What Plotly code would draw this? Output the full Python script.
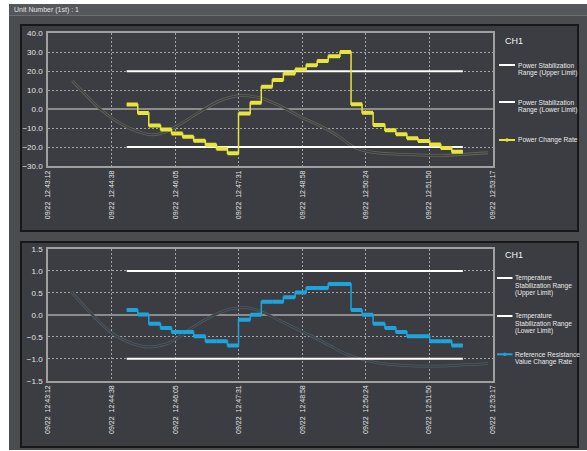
import plotly.graph_objects as go

W, H = 587, 451
DAY = "2023-09-22 "

# x axis ticks (start / end of the window)
tick_times = ["12:43:12", "12:44:38", "12:46:05", "12:47:31",
              "12:48:58", "12:50:24", "12:51:50", "12:53:17"]

# step change times, last entry closes the final step
step_times = ["12:44:59", "12:45:14", "12:45:29", "12:45:45", "12:46:00", "12:46:15",
              "12:46:30", "12:46:46", "12:47:01", "12:47:16", "12:47:31", "12:47:47",
              "12:48:02", "12:48:17", "12:48:32", "12:48:48", "12:49:03", "12:49:18",
              "12:49:33", "12:49:49", "12:50:04", "12:50:19", "12:50:34", "12:50:50",
              "12:51:05", "12:51:20", "12:51:35", "12:51:51", "12:52:06", "12:52:21",
              "12:52:36"]

power_rate = [2.5, -2.0, -8.6, -10.7, -12.8, -14.6, -16.7, -18.8, -20.9, -23.3,
              -2.3, 3.3, 11.8, 15.3, 18.8, 20.9, 23.2, 25.4, 27.9, 30.2,
              2.6, -1.9, -8.4, -11.1, -13.3, -15.4, -16.8, -18.6, -20.5, -22.5]

resist_rate = [0.11, 0.01, -0.2, -0.3, -0.39, -0.39, -0.49, -0.6, -0.6, -0.7,
               -0.11, 0.0, 0.3, 0.3, 0.4, 0.51, 0.61, 0.61, 0.7, 0.7,
               0.11, 0.0, -0.2, -0.3, -0.39, -0.49, -0.49, -0.6, -0.6, -0.7]

power_upper, power_lower = 20.0, -20.0
temp_upper, temp_lower = 1.0, -1.0

# faint background curves
bg_times_top = ["12:43:45", "12:44:23", "12:44:40", "12:45:04", "12:45:31", "12:45:48",
                "12:46:07", "12:46:39", "12:47:06", "12:47:34", "12:48:00", "12:48:27",
                "12:48:55", "12:49:26", "12:49:49", "12:50:09", "12:50:34", "12:51:20",
                "12:52:05", "12:53:10"]
bg_top = [15, 0, -5, -10.3, -13.5, -12.6, -9, -1.3, 4.5, 7.1, 5.9, 1.8,
          -4, -9.6, -14.9, -20.2, -22.8, -24, -24.4, -23]

bg_times_bot = ["12:43:44", "12:44:09", "12:44:40", "12:45:08", "12:45:28", "12:45:53",
                "12:46:06", "12:46:29", "12:46:56", "12:47:23", "12:47:44", "12:48:04",
                "12:48:27", "12:48:50", "12:49:12", "12:49:35", "12:49:58", "12:50:16",
                "12:50:43", "12:51:15", "12:51:51", "12:52:36", "12:53:10"]
bg_bot = [0.52, 0.06, -0.43, -0.66, -0.73, -0.66, -0.55, -0.28, -0.02, 0.14, 0.16, 0.06,
          -0.13, -0.32, -0.5, -0.7, -0.9, -1.0, -1.1, -1.15, -1.17, -1.14, -1.11]

top_legend = [("Power Stabilization|Range (Upper Limit)", "white"),
              ("Power Stabilization|Range (Lower Limit)", "white"),
              ("Power Change Rate", "yellow")]
bot_legend = [("Temperature|Stabilization Range|(Upper Limit)", "white"),
              ("Temperature|Stabilization Range|(Lower Limit)", "white"),
              ("Reference Resistance|Value Change Rate", "blue")]

YELLOW = "#e8e53a"
BLUE = "#1ea4dc"
BOX = "#3c3d42"
PANEL = "#4b4c50"
TXT = "#e2e2e2"
GRID = "#a4a4a4"


def px(x):
    return x / W


def py(y):
    return 1 - y / H


def t(s):
    return DAY + s


fig = go.Figure()


def add_panel(xa, ya, values, color, upper, lower, bg_x, bg_y, bg_color):
    st = [t(s) for s in step_times]
    # ghost curve drawn as a double line (wide line with a bg-coloured core)
    fig.add_trace(go.Scatter(x=[t(s) for s in bg_x], y=bg_y, mode="lines",
                             line=dict(color=bg_color, width=2.8, shape="spline"),
                             xaxis=xa, yaxis=ya, hoverinfo="skip"))
    fig.add_trace(go.Scatter(x=[t(s) for s in bg_x], y=bg_y, mode="lines",
                             line=dict(color=BOX, width=1.2, shape="spline"),
                             xaxis=xa, yaxis=ya, hoverinfo="skip"))
    for lim in (upper, lower):
        fig.add_trace(go.Scatter(x=[st[0], st[-1]], y=[lim, lim], mode="lines",
                                 line=dict(color="white", width=2),
                                 xaxis=xa, yaxis=ya))
    fig.add_trace(go.Scatter(x=st, y=values + [values[-1]], mode="lines",
                             line=dict(color=color, width=1.5, shape="hv"),
                             xaxis=xa, yaxis=ya))
    sx, sy = [], []
    for i, v in enumerate(values):
        sx += [st[i], st[i + 1], None]
        sy += [v, v, None]
    fig.add_trace(go.Scatter(x=sx, y=sy, mode="lines",
                             line=dict(color=color, width=4),
                             xaxis=xa, yaxis=ya))


add_panel("x", "y", power_rate, YELLOW, power_upper, power_lower,
          bg_times_top, bg_top, "#65655a")
add_panel("x2", "y2", resist_rate, BLUE, temp_upper, temp_lower,
          bg_times_bot, bg_bot, "#4d5c68")

xcommon = dict(type="date", range=[t(tick_times[0]), t(tick_times[-1])],
               tickvals=[t(s) for s in tick_times],
               ticktext=["09/22\u00a0\u00a0" + s for s in tick_times],
               tickangle=-90, tickfont=dict(size=7, color=TXT),
               showgrid=True, gridcolor=GRID, griddash="2px,2px", gridwidth=1,
               showline=True, mirror=True, linecolor="#a0a0a0", linewidth=1.5,
               zeroline=False, automargin=False, fixedrange=True)
ycommon = dict(showgrid=True, gridcolor=GRID, griddash="2px,2px", gridwidth=1,
               zeroline=True, zerolinecolor="#8c8c8c", zerolinewidth=2,
               showline=True, mirror=True, linecolor="#a0a0a0", linewidth=1.5,
               tickfont=dict(size=8, color=TXT), tickformat=".1f",
               ticklabelstandoff=2, automargin=False, fixedrange=True)

fig.update_layout(
    width=W, height=H, margin=dict(l=0, r=0, t=0, b=0),
    paper_bgcolor="white", plot_bgcolor=BOX, showlegend=False,
    font=dict(family="Liberation Sans, Arial, sans-serif", color=TXT),
    xaxis=dict(xcommon, domain=[px(48), px(493)], anchor="y"),
    yaxis=dict(ycommon, domain=[py(166), py(33.3)], range=[-30, 40], dtick=10, anchor="x"),
    xaxis2=dict(xcommon, domain=[px(48), px(493)], anchor="y2"),
    yaxis2=dict(ycommon, domain=[py(380.7), py(249)], range=[-1.5, 1.5], dtick=0.5, anchor="x2"),
)

shapes = [
    dict(type="rect", x0=px(9), x1=1, y0=py(450), y1=py(4), fillcolor=PANEL, line_width=0),
    dict(type="rect", x0=px(9), x1=1, y0=py(15), y1=py(4), fillcolor="#56575b", line_width=0),
    dict(type="line", x0=px(9), x1=1, y0=py(15.5), y1=py(15.5), line=dict(color="#6c6d71", width=1)),
    dict(type="rect", x0=px(21), x1=px(578), y0=py(231), y1=py(25), fillcolor=BOX,
         line=dict(color="#18181a", width=2)),
    dict(type="rect", x0=px(21), x1=px(578), y0=py(447), y1=py(242), fillcolor=BOX,
         line=dict(color="#18181a", width=2)),
]
for s in shapes:
    s.update(xref="paper", yref="paper", layer="below")

ann = [dict(x=px(12), y=py(10), text="Unit Number (1st) : 1", font=dict(size=7, color=TXT))]

colors = {"white": "white", "yellow": YELLOW, "blue": BLUE}


def legend_block(title_y, items, sym_x0, sym_x1, text_x, ys, line_gap):
    ann.append(dict(x=px(503), y=py(title_y), text="CH1", font=dict(size=9, color="#f0f0f0")))
    for (label, key), y0 in zip(items, ys):
        c = colors[key]
        shapes.append(dict(type="line", xref="paper", yref="paper", x0=px(sym_x0), x1=px(sym_x1),
                           y0=py(y0), y1=py(y0), line=dict(color=c, width=2)))
        if key != "white":
            mx = (sym_x0 + sym_x1) / 2
            shapes.append(dict(type="circle", xref="paper", yref="paper",
                               x0=px(mx - 1.8), x1=px(mx + 1.8), y0=py(y0 + 1.8), y1=py(y0 - 1.8),
                               fillcolor=c, line_width=0))
        for k, line in enumerate(label.split("|")):
            ann.append(dict(x=px(text_x), y=py(y0 + k * line_gap), text=line,
                            font=dict(size=6.6, color="#e8e8e8")))


legend_block(41, top_legend, 499, 515, 515.5, [65, 102, 140], 7.7)
legend_block(255, bot_legend, 497, 512.5, 513, [278, 316, 354.3], 7.7)

for a in ann:
    a.update(xref="paper", yref="paper", xanchor="left", yanchor="middle", showarrow=False)

fig.update_layout(shapes=shapes, annotations=ann)

# drop the browser's default body margin so the figure sits at the page origin
fig.write_html("out.html", config={"displayModeBar": False},
               post_script="document.body.style.margin='0';")
